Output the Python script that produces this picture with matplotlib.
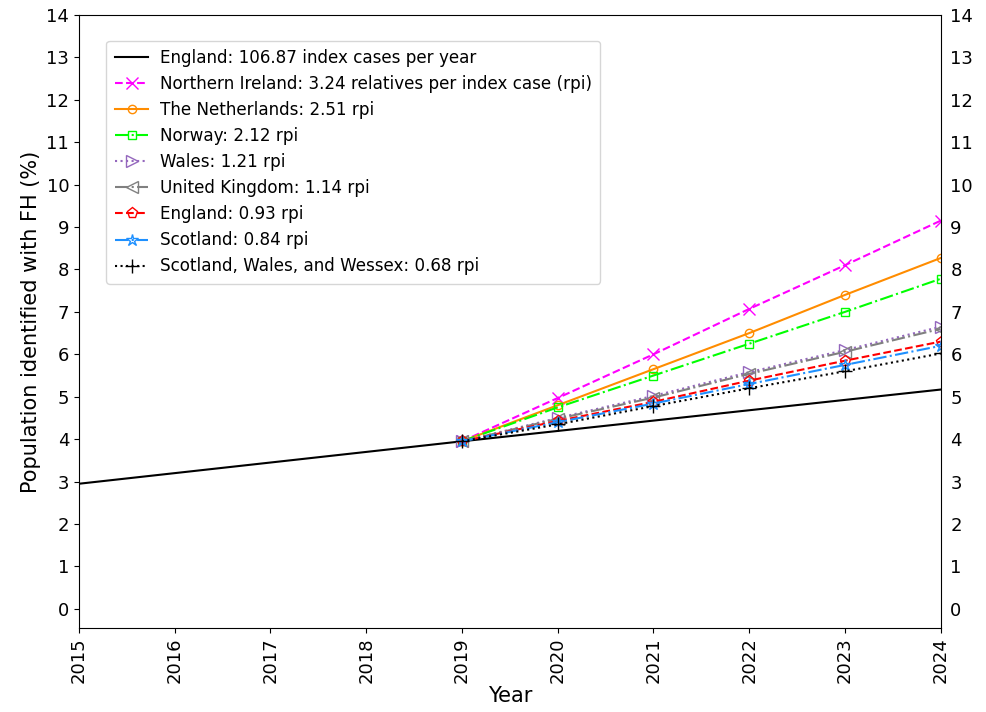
import numpy as np
import matplotlib.pyplot as plt

# data
years_base = [2015, 2019, 2024]
england_base = [2.95, 3.95, 5.17]

years = [2019, 2020, 2021, 2022, 2023, 2024]
northern_ireland = [3.95, 4.97, 6.00, 7.07, 8.10, 9.15]
netherlands = [3.95, 4.80, 5.65, 6.50, 7.40, 8.27]
norway = [3.95, 4.75, 5.50, 6.25, 7.00, 7.78]
wales = [3.95, 4.50, 5.02, 5.58, 6.10, 6.65]
uk = [3.95, 4.48, 4.98, 5.54, 6.06, 6.60]
england_rpi = [3.95, 4.43, 4.88, 5.38, 5.85, 6.30]
scotland = [3.95, 4.40, 4.84, 5.30, 5.75, 6.20]
sww = [3.95, 4.35, 4.78, 5.20, 5.60, 6.02]

labels = ["England: 106.87 index cases per year",
          "Northern Ireland: 3.24 relatives per index case (rpi)",
          "The Netherlands: 2.51 rpi",
          "Norway: 2.12 rpi",
          "Wales: 1.21 rpi",
          "United Kingdom: 1.14 rpi",
          "England: 0.93 rpi",
          "Scotland: 0.84 rpi",
          "Scotland, Wales, and Wessex: 0.68 rpi"]


def plotProjection():
    fig = plt.figure(figsize=(9.87, 7.12), dpi=100)
    ax = fig.add_axes([0.080, 0.118, 0.873, 0.861])

    ms = 8
    ax.plot(years_base, england_base, color="black", lw=1.5, label=labels[0])
    ax.plot(years, northern_ireland, "--", color="magenta", marker="x", ms=ms, mfc="none", label=labels[1])
    ax.plot(years, netherlands, "-", color="darkorange", marker="o", ms=6, mfc="none", label=labels[2])
    ax.plot(years, norway, "-.", color="lime", marker="s", ms=6, mfc="none", label=labels[3])
    ax.plot(years, wales, ":", color="tab:purple", marker=">", ms=ms, mfc="none", label=labels[4])
    ax.plot(years, uk, "-.", color="gray", marker="<", ms=ms, mfc="none", label=labels[5])
    ax.plot(years, england_rpi, "--", color="red", marker="p", ms=ms, mfc="none", label=labels[6])
    ax.plot(years, scotland, "-.", color="dodgerblue", marker="*", ms=9, mfc="none", label=labels[7])
    ax.plot(years, sww, ":", color="black", marker="+", ms=10, label=labels[8])

    ax.set_xlim(2015, 2024)
    ax.set_ylim(-0.45, 14)
    ax.set_xticks(range(2015, 2025))
    ax.set_yticks(range(0, 15))
    ax.tick_params(axis="x", labelrotation=90, labelsize=13)
    ax.tick_params(axis="y", labelsize=13, labelright=True)
    ax.tick_params(axis="y", which="both", right=False)
    ax.set_xlabel("Year", fontsize=15, labelpad=2)
    ax.set_ylabel("Population identified with FH (%)", fontsize=15)

    ax.legend(loc="upper left", bbox_to_anchor=(0.022, 0.972), fontsize=12.1,
              handlelength=2.0, handletextpad=0.7, labelspacing=0.48, borderpad=0.5)

    fig.savefig("out.png", dpi=100)


def main():
    plotProjection()


if __name__ == '__main__':
    main()
